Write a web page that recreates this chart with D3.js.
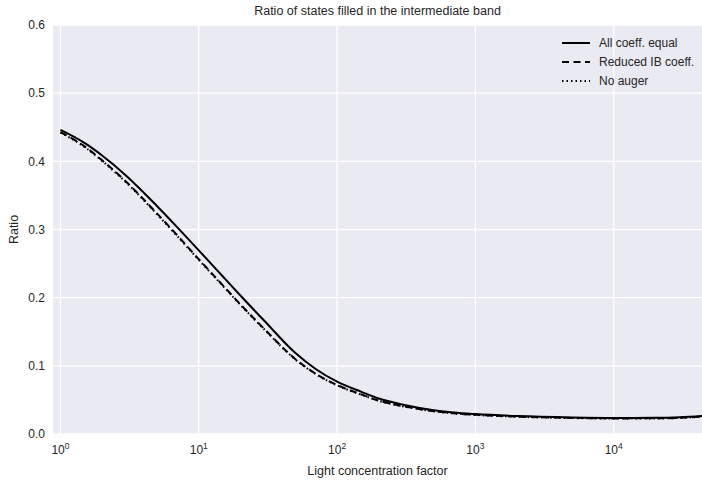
<!DOCTYPE html>
<html>
<head>
<meta charset="utf-8">
<script src="https://cdn.jsdelivr.net/npm/d3@7"></script>
<style>
  html, body { margin: 0; padding: 0; background: #ffffff; }
  svg { display: block; font-family: "Liberation Sans", Arial, sans-serif; }
</style>
</head>
<body>
<svg id="chart" width="702" height="484"></svg>
<script>
// ---- data ----
const xValues = [1, 1.5, 2, 3, 5, 7, 10, 15, 20, 30, 50, 70, 100, 150, 200, 300, 500, 700, 1000, 2000, 5000, 10000, 20000, 30000, 50000];
const allCoeffEqual = [0.446, 0.4266, 0.4085, 0.3786, 0.3342, 0.3032, 0.2694, 0.2307, 0.2032, 0.1654, 0.1188, 0.0954, 0.0768, 0.0618, 0.052, 0.043, 0.035, 0.0315, 0.0292, 0.0263, 0.0243, 0.0236, 0.0237, 0.0245, 0.0272];
const reducedIB = [0.443, 0.4216, 0.4015, 0.3696, 0.3232, 0.2912, 0.2564, 0.2177, 0.1902, 0.1534, 0.1098, 0.0884, 0.0718, 0.058, 0.049, 0.0408, 0.0335, 0.0303, 0.0282, 0.0255, 0.0236, 0.0229, 0.023, 0.0238, 0.0266];
const noAuger = [0.4422, 0.4208, 0.4006, 0.3686, 0.3222, 0.2902, 0.2554, 0.2168, 0.1894, 0.1527, 0.1092, 0.0879, 0.0714, 0.0577, 0.0487, 0.0406, 0.0333, 0.0301, 0.028, 0.0253, 0.0234, 0.0227, 0.0228, 0.0236, 0.0264];
const seriesNames = ["All coeff. equal", "Reduced IB coeff.", "No auger"];
const xTickExponents = [0, 1, 2, 3, 4];
const yTicks = [0.0, 0.1, 0.2, 0.3, 0.4, 0.5, 0.6];
const titleText = "Ratio of states filled in the intermediate band";
const xLabelText = "Light concentration factor";
const yLabelText = "Ratio";

// ---- layout ----
const svg = d3.select("#chart");
const plot = { left: 53, right: 702, top: 25, bottom: 434 };
const x = d3.scaleLog().domain([0.883, 43500]).range([plot.left, plot.right]);
const y = d3.scaleLinear().domain([0, 0.6]).range([plot.bottom, plot.top]);
const textColor = "#262626";

svg.append("rect")
  .attr("x", plot.left).attr("y", plot.top)
  .attr("width", plot.right - plot.left).attr("height", plot.bottom - plot.top)
  .attr("fill", "#EAEAF2");

svg.append("clipPath").attr("id", "clip")
  .append("rect")
  .attr("x", plot.left).attr("y", plot.top)
  .attr("width", plot.right - plot.left).attr("height", plot.bottom - plot.top);

// grid
const grid = svg.append("g");
grid.selectAll(".gy").data(yTicks).enter().append("line")
  .attr("x1", plot.left).attr("x2", plot.right)
  .attr("y1", d => y(d)).attr("y2", d => y(d))
  .attr("stroke", "#ffffff").attr("stroke-width", 1.3);
grid.selectAll(".gx").data(xTickExponents).enter().append("line")
  .attr("x1", d => x(Math.pow(10, d))).attr("x2", d => x(Math.pow(10, d)))
  .attr("y1", plot.top).attr("y2", plot.bottom)
  .attr("stroke", "#ffffff").attr("stroke-width", 1.3);

// y tick labels
svg.append("g").selectAll("text").data(yTicks).enter().append("text")
  .attr("x", 45).attr("y", d => y(d))
  .attr("dy", "0.35em")
  .attr("text-anchor", "end")
  .attr("font-size", 12).attr("fill", textColor)
  .text(d => d.toFixed(1));

// x tick labels
const xt = svg.append("g").selectAll("text").data(xTickExponents).enter().append("text")
  .attr("x", d => x(Math.pow(10, d)))
  .attr("y", 454)
  .attr("text-anchor", "middle")
  .attr("font-size", 12).attr("fill", textColor);
xt.append("tspan").text("10");
xt.append("tspan").attr("dy", -5).attr("font-size", 8.5).text(d => d);

// titles
svg.append("text").attr("x", (plot.left + plot.right) / 2).attr("y", 15)
  .attr("text-anchor", "middle").attr("font-size", 12.5).attr("fill", textColor)
  .text(titleText);
svg.append("text").attr("x", (plot.left + plot.right) / 2).attr("y", 475)
  .attr("text-anchor", "middle").attr("font-size", 12.5).attr("fill", textColor)
  .text(xLabelText);
svg.append("text")
  .attr("transform", `translate(18,${(plot.top + plot.bottom) / 2}) rotate(-90)`)
  .attr("text-anchor", "middle").attr("font-size", 12.5).attr("fill", textColor)
  .text(yLabelText);

// lines
const styles = [
  { dash: null, width: 2 },
  { dash: "7,4.5", width: 2 },
  { dash: "1.5,3", width: 2 }
];
const allSeries = [allCoeffEqual, reducedIB, noAuger];
const line = d3.line().x(d => x(d[0])).y(d => y(d[1])).curve(d3.curveMonotoneX);
const lines = svg.append("g").attr("clip-path", "url(#clip)");
allSeries.forEach((vals, i) => {
  const pts = xValues.map((xv, j) => [xv, vals[j]]);
  lines.append("path").datum(pts)
    .attr("d", line)
    .attr("fill", "none")
    .attr("stroke", "#000000")
    .attr("stroke-width", styles[i].width)
    .attr("stroke-dasharray", styles[i].dash);
});

// legend
const legend = svg.append("g");
seriesNames.forEach((name, i) => {
  const ly = 43 + i * 19;
  legend.append("line")
    .attr("x1", 562).attr("x2", 590).attr("y1", ly).attr("y2", ly)
    .attr("stroke", "#000").attr("stroke-width", 2)
    .attr("stroke-dasharray", styles[i].dash);
  legend.append("text").attr("x", 599).attr("y", ly).attr("dy", "0.35em")
    .attr("font-size", 12).attr("fill", textColor).text(name);
});
</script>
</body>
</html>
